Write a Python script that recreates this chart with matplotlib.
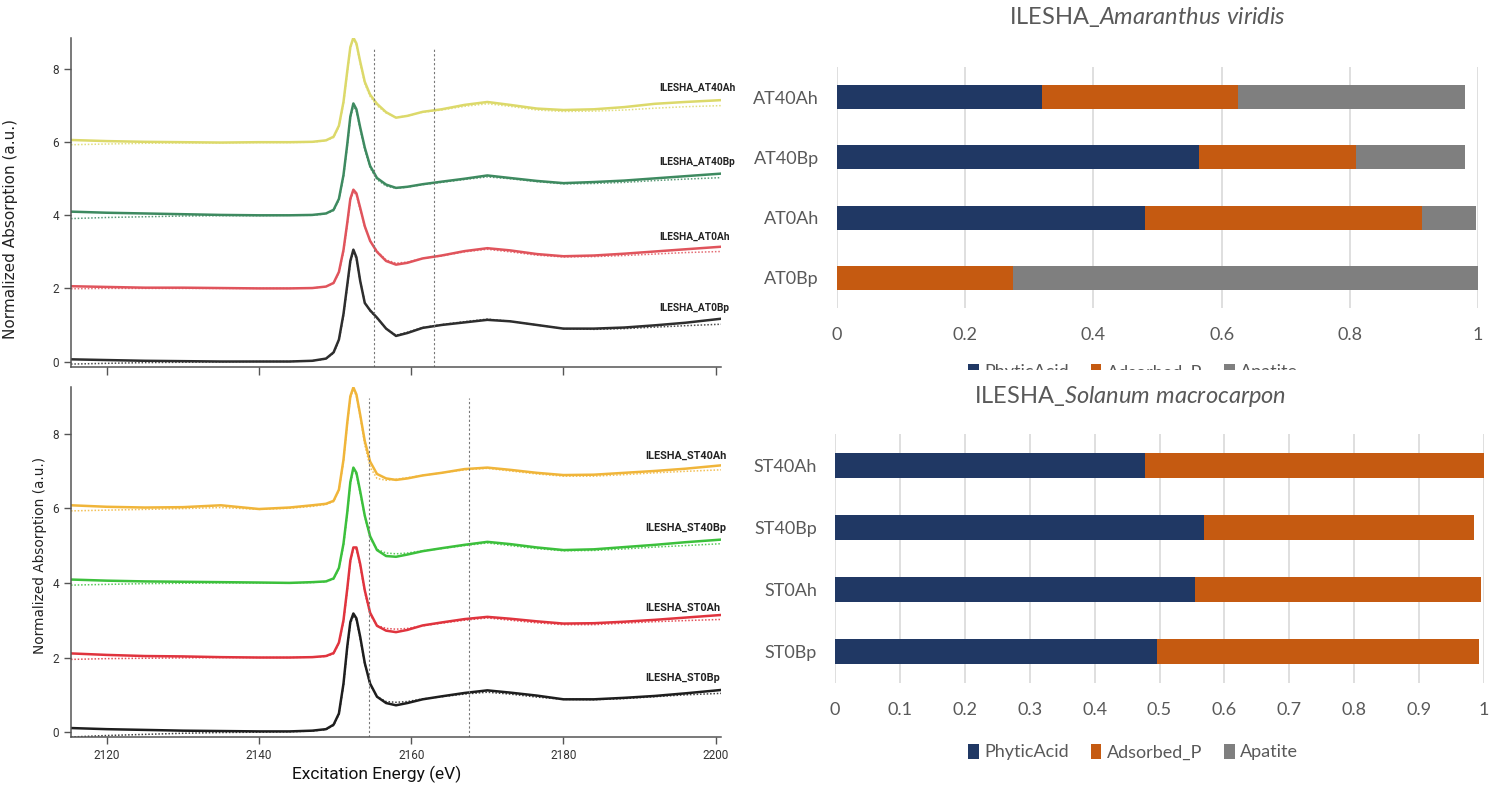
import matplotlib
matplotlib.use("Agg")
import matplotlib.pyplot as plt
from matplotlib.patches import Rectangle

plt.rcParams["font.family"] = ["Roboto", "DejaVu Sans"]
plt.rcParams["mathtext.fontset"] = "custom"
plt.rcParams["mathtext.rm"] = "Lato"
plt.rcParams["mathtext.it"] = "Lato:italic"

# --- P K-edge XANES spectra (shared energy grid, eV) ---
energy = [2115.3, 2120, 2125, 2130, 2135, 2140, 2144, 2147, 2148.8, 2149.8,
          2150.5, 2151.1, 2151.6, 2152.0, 2152.4, 2152.8, 2153.3, 2153.9, 2154.6, 2155.5,
          2156.7, 2158.0, 2159.5, 2161.5, 2164, 2167, 2170, 2173, 2176.5, 2180,
          2184, 2188, 2192, 2196, 2200.7]

# Amaranthus samples: measured spectra and linear-combination fits (offset stacked)
at40ah = [6.06, 6.03, 6.01, 6.00, 5.99, 6.00, 6.00, 6.01, 6.05, 6.15,
          6.45, 7.10, 7.95, 8.60, 8.86, 8.70, 8.20, 7.65, 7.30, 7.05,
          6.82, 6.67, 6.72, 6.83, 6.90, 7.02, 7.10, 7.02, 6.92, 6.88,
          6.90, 6.96, 7.05, 7.10, 7.15]
at40ah_fit = [5.93, 5.95, 5.97, 5.98, 5.98, 5.99, 5.99, 6.00, 6.04, 6.13,
              6.42, 7.05, 7.90, 8.55, 8.82, 8.66, 8.15, 7.60, 7.25, 7.00,
              6.80, 6.68, 6.72, 6.82, 6.88, 6.98, 7.05, 6.98, 6.88, 6.84,
              6.85, 6.88, 6.93, 6.97, 7.00]
at40bp = [4.10, 4.07, 4.05, 4.03, 4.01, 4.00, 4.00, 4.01, 4.05, 4.15,
          4.45, 5.10, 5.95, 6.70, 7.06, 6.90, 6.40, 5.85, 5.35, 5.02,
          4.84, 4.75, 4.78, 4.85, 4.92, 5.00, 5.09, 5.02, 4.94, 4.88,
          4.91, 4.95, 5.01, 5.07, 5.14]
at40bp_fit = [3.91, 3.94, 3.96, 3.98, 3.99, 3.99, 4.00, 4.00, 4.04, 4.13,
              4.42, 5.05, 5.90, 6.65, 7.00, 6.85, 6.35, 5.80, 5.30, 4.98,
              4.80, 4.74, 4.77, 4.84, 4.90, 4.98, 5.05, 5.00, 4.92, 4.86,
              4.87, 4.90, 4.95, 4.99, 5.03]
at0ah = [2.06, 2.04, 2.02, 2.02, 2.01, 2.00, 2.00, 2.01, 2.05, 2.15,
         2.45, 3.05, 3.80, 4.45, 4.70, 4.60, 4.20, 3.70, 3.30, 3.00,
         2.75, 2.65, 2.70, 2.82, 2.90, 3.02, 3.10, 3.04, 2.94, 2.88,
         2.90, 2.95, 3.01, 3.07, 3.14]
at0ah_fit = [1.99, 2.00, 2.00, 2.00, 2.00, 2.00, 2.00, 2.01, 2.05, 2.14,
             2.43, 3.00, 3.75, 4.40, 4.65, 4.55, 4.15, 3.68, 3.30, 3.02,
             2.78, 2.69, 2.72, 2.82, 2.89, 3.00, 3.07, 3.00, 2.91, 2.86,
             2.87, 2.90, 2.94, 2.98, 3.01]
at0bp = [0.06, 0.04, 0.02, 0.01, 0.00, 0.00, 0.00, 0.02, 0.08, 0.25,
         0.60, 1.30, 2.10, 2.75, 3.06, 2.85, 2.20, 1.60, 1.40, 1.20,
         0.90, 0.70, 0.78, 0.92, 1.00, 1.07, 1.14, 1.10, 1.00, 0.90,
         0.90, 0.93, 0.99, 1.06, 1.17]
at0bp_fit = [-0.07, -0.05, -0.03, -0.02, -0.01, 0.00, 0.00, 0.02, 0.07, 0.23,
             0.57, 1.25, 2.05, 2.70, 3.00, 2.80, 2.20, 1.62, 1.38, 1.18,
             0.90, 0.72, 0.80, 0.93, 1.01, 1.09, 1.16, 1.10, 1.00, 0.90,
             0.88, 0.90, 0.94, 0.98, 1.02]

# Solanum samples
st40ah = [6.08, 6.04, 6.02, 6.03, 6.08, 5.98, 6.02, 6.08, 6.12, 6.20,
          6.50, 7.30, 8.30, 9.00, 9.24, 9.05, 8.50, 7.80, 7.25, 6.92,
          6.80, 6.76, 6.80, 6.88, 6.95, 7.05, 7.09, 7.03, 6.95, 6.89,
          6.90, 6.95, 7.00, 7.06, 7.15]
st40ah_fit = [5.93, 5.95, 5.97, 5.99, 6.02, 5.97, 6.00, 6.05, 6.10, 6.18,
              6.48, 7.25, 8.25, 8.95, 9.20, 9.00, 8.45, 7.70, 7.10, 6.80,
              6.75, 6.78, 6.82, 6.88, 6.95, 7.03, 7.07, 7.00, 6.92, 6.86,
              6.86, 6.90, 6.95, 6.99, 7.03]
st40bp = [4.09, 4.06, 4.04, 4.03, 4.02, 4.01, 4.00, 4.02, 4.04, 4.12,
          4.40, 5.05, 5.90, 6.70, 7.09, 6.95, 6.45, 5.80, 5.25, 4.88,
          4.72, 4.70, 4.76, 4.85, 4.93, 5.02, 5.10, 5.04, 4.95, 4.88,
          4.90, 4.96, 5.02, 5.09, 5.16]
st40bp_fit = [3.94, 3.96, 3.98, 3.99, 4.00, 4.00, 4.00, 4.01, 4.03, 4.10,
              4.38, 5.00, 5.85, 6.65, 7.05, 6.90, 6.40, 5.78, 5.20, 4.90,
              4.80, 4.78, 4.80, 4.86, 4.92, 5.00, 5.07, 5.00, 4.92, 4.86,
              4.87, 4.91, 4.96, 5.00, 5.05]
st0ah = [2.11, 2.07, 2.04, 2.03, 2.01, 2.00, 2.00, 2.01, 2.04, 2.12,
         2.40, 3.00, 3.85, 4.60, 4.95, 4.95, 4.50, 3.80, 3.20, 2.85,
         2.72, 2.68, 2.74, 2.86, 2.94, 3.03, 3.09, 3.04, 2.97, 2.91,
         2.92, 2.96, 3.01, 3.07, 3.14]
st0ah_fit = [1.95, 1.97, 1.98, 1.99, 2.00, 2.00, 2.00, 2.01, 2.03, 2.10,
             2.38, 2.95, 3.80, 4.55, 4.92, 4.90, 4.45, 3.75, 3.15, 2.86,
             2.78, 2.76, 2.78, 2.85, 2.92, 3.00, 3.06, 3.00, 2.93, 2.88,
             2.88, 2.92, 2.96, 2.99, 3.02]
st0bp = [0.11, 0.08, 0.06, 0.04, 0.03, 0.02, 0.02, 0.04, 0.08, 0.20,
         0.50, 1.30, 2.30, 2.95, 3.18, 3.05, 2.55, 1.85, 1.30, 0.95,
         0.78, 0.72, 0.78, 0.88, 0.96, 1.05, 1.12, 1.06, 0.98, 0.88,
         0.88, 0.92, 0.97, 1.04, 1.13]
st0bp_fit = [-0.13, -0.09, -0.06, -0.03, -0.01, 0.00, 0.01, 0.03, 0.07, 0.18,
             0.48, 1.25, 2.25, 2.90, 3.12, 3.00, 2.50, 1.82, 1.28, 0.95,
             0.82, 0.80, 0.82, 0.89, 0.95, 1.02, 1.07, 1.02, 0.94, 0.88,
             0.87, 0.90, 0.95, 1.00, 1.04]

# --- LCF speciation fractions ---
species = ["PhyticAcid", "Adsorbed_P", "Apatite"]
species_colors = ["#203864", "#C55A11", "#7F7F7F"]

amaranthus_samples = ["AT40Ah", "AT40Bp", "AT0Ah", "AT0Bp"]
amaranthus_phytic = [0.32, 0.565, 0.48, 0.0]
amaranthus_adsorbed = [0.305, 0.244, 0.432, 0.275]
amaranthus_apatite = [0.355, 0.171, 0.085, 0.725]

solanum_samples = ["ST40Ah", "ST40Bp", "ST0Ah", "ST0Bp"]
solanum_phytic = [0.478, 0.569, 0.555, 0.496]
solanum_adsorbed = [0.522, 0.416, 0.441, 0.497]
solanum_apatite = [0.0, 0.0, 0.0, 0.0]

fig = plt.figure(figsize=(14.99, 7.88), dpi=100)
W, H = 1499, 788


def px_axes(left, top, right, bottom):
    return fig.add_axes([left / W, 1 - bottom / H, (right - left) / W, (bottom - top) / H])


def spectra_panel(ax, curves, vlines, ylim, label_x, label_size):
    for data, fit, color, name, ly in curves:
        ax.plot(energy, fit, color=color, lw=1.1, ls=(0, (1, 1.2)), alpha=0.85)
        ax.plot(energy, data, color=color, lw=1.8)
        ax.text(label_x, ly, name, fontsize=label_size, fontweight="bold",
                color="#222222", ha="left", va="center", clip_on=False)
    for xv in vlines:
        ax.axvline(xv, color="#777777", lw=0.8, ls=(0, (2, 2)), ymax=0.97)
    ax.set_xlim(2115.3, 2200.7)
    ax.set_ylim(*ylim)
    ax.set_xticks([2120, 2140, 2160, 2180, 2200])
    ax.set_yticks([0, 2, 4, 6, 8])
    for side in ["top", "right"]:
        ax.spines[side].set_visible(False)
    for side in ["left", "bottom"]:
        ax.spines[side].set_color("#555555")
        ax.spines[side].set_linewidth(1.1)
    ax.tick_params(direction="out", length=5, width=1, color="#555555",
                   labelsize=8.5, labelcolor="#333333")


# top-left: Amaranthus spectra
ax1 = px_axes(71, 38, 721, 367)
spectra_panel(ax1, [
    (at40ah, at40ah_fit, "#DCD96A", "ILESHA_AT40Ah", 7.49),
    (at40bp, at40bp_fit, "#3E8A60", "ILESHA_AT40Bp", 5.46),
    (at0ah, at0ah_fit, "#E0545C", "ILESHA_AT0Ah", 3.42),
    (at0bp, at0bp_fit, "#2E2E2E", "ILESHA_AT0Bp", 1.47),
], [2155.1, 2163.0], (-0.15, 8.85), 2192.6, 7.3)
ax1.tick_params(axis="x", labelbottom=False, length=6)
ax1.set_ylabel("Normalized Absorption (a.u.)", family="DejaVu Sans",
               fontsize=11, color="#222222")
ax1.yaxis.set_label_coords(-0.082, 0.42)

# bottom-left: Solanum spectra
ax2 = px_axes(71, 387, 721, 737)
spectra_panel(ax2, [
    (st40ah, st40ah_fit, "#F0B53A", "ILESHA_ST40Ah", 7.42),
    (st40bp, st40bp_fit, "#3CC03C", "ILESHA_ST40Bp", 5.47),
    (st0ah, st0ah_fit, "#E0343E", "ILESHA_ST0Ah", 3.32),
    (st0bp, st0bp_fit, "#1E1E1E", "ILESHA_ST0Bp", 1.46),
], [2154.5, 2167.6], (-0.13, 9.25), 2190.8, 7.8)
ax2.set_xlabel("Excitation Energy (eV)", fontsize=12.5, color="#111111")
ax2.xaxis.set_label_coords(0.47, -0.082)
ax2.set_ylabel("Normalized Absorption (a.u.)", family="DejaVu Sans",
               fontsize=9.8, color="#222222")
ax2.yaxis.set_label_coords(-0.037, 0.52)


def fraction_panel(ax, samples, phytic, adsorbed, apatite, step, title, title_x, pad):
    ys = range(len(samples))
    left = [0.0] * len(samples)
    for vals, name, color in zip([phytic, adsorbed, apatite], species, species_colors):
        ax.barh(ys, vals, left=left, height=0.4, color=color, label=name, zorder=3)
        left = [a + b for a, b in zip(left, vals)]
    ax.set_yticks(list(ys))
    ax.set_yticklabels(samples, family="Lato")
    ax.set_ylim(len(samples) - 0.5, -0.5)
    ax.set_xlim(0, 1)
    ticks = [round(i * step, 1) for i in range(int(round(1 / step)) + 1)]
    ax.set_xticks(ticks)
    ax.set_xticklabels(["0" if t == 0 else ("1" if t == 1 else f"{t:g}") for t in ticks],
                       family="Lato")
    ax.grid(axis="x", color="#D9D9D9", lw=1.2, zorder=0)
    for s in ax.spines.values():
        s.set_visible(False)
    ax.tick_params(length=0, labelsize=13, labelcolor="#595959")
    ax.tick_params(axis="y", pad=13)
    ax.tick_params(axis="x", pad=14)
    ax.set_title(title, fontsize=17, color="#595959", family="Lato", pad=pad, x=title_x)


def fraction_legend(ax, y_px):
    return ax.legend(loc="center", bbox_to_anchor=(1133 / W, 1 - y_px / H),
                     bbox_transform=fig.transFigure, ncol=3, frameon=False,
                     prop={"family": "Lato", "size": 13}, labelcolor="#595959",
                     handlelength=0.6, handleheight=0.9, handletextpad=0.3,
                     columnspacing=1.2)


# top-right: Amaranthus fractions
ax3 = px_axes(837, 67, 1478, 308)
fraction_panel(ax3, amaranthus_samples, amaranthus_phytic, amaranthus_adsorbed,
               amaranthus_apatite, 0.2, r"ILESHA_$Amaranthus\ viridis$", 0.484, 31)
fraction_legend(ax3, 372)

# bottom-right: Solanum fractions
ax4 = px_axes(835, 434, 1484, 683)
fraction_panel(ax4, solanum_samples, solanum_phytic, solanum_adsorbed,
               solanum_apatite, 0.1, r"ILESHA_$Solanum\ macrocarpon$", 0.455, 22)
fraction_legend(ax4, 752)
ax4.set_zorder(2)

# the upper legend sits half under the lower panel
fig.patches.append(Rectangle((950 / W, 1 - 388 / H), 380 / W, 18 / H,
                             transform=fig.transFigure, facecolor="white",
                             edgecolor="none", zorder=1))

fig.savefig("out.png", dpi=100)
